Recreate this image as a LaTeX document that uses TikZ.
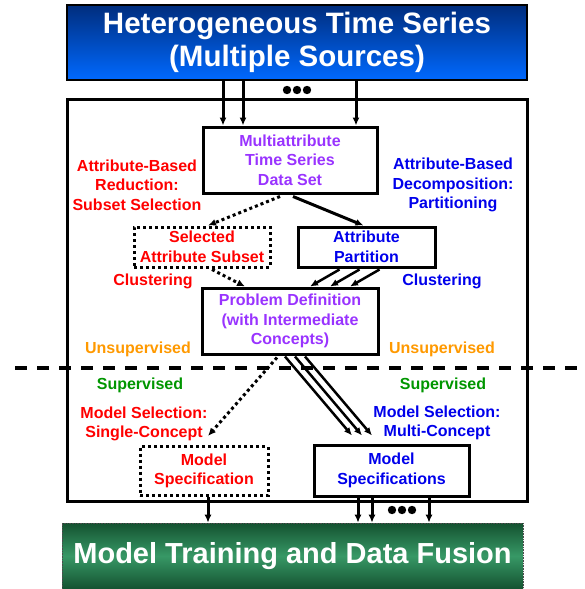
\documentclass[tikz,border=0pt]{standalone}
\usepackage{fontspec}
\setmainfont{Liberation Sans}
\usetikzlibrary{arrows.meta,calc}
\definecolor{tspurple}{RGB}{153,51,255}
\definecolor{tsred}{RGB}{255,0,0}
\definecolor{tsblue}{RGB}{0,0,235}
\definecolor{tsorange}{RGB}{255,153,0}
\definecolor{tsgreen}{RGB}{0,150,0}
\definecolor{srctop}{RGB}{0,45,125}
\definecolor{srcbot}{RGB}{0,105,255}
\definecolor{fuseout}{RGB}{20,82,48}
\definecolor{fusemid}{RGB}{55,152,102}
\tikzset{
	box/.style={draw, line width=3pt, align=center, inner sep=0pt,
		font=\fontsize{16}{19.5}\selectfont\bfseries},
	dotbox/.style={box, dash pattern=on 3pt off 3pt},
	lab/.style={align=center, inner sep=0pt, font=\fontsize{16}{19.5}\selectfont\bfseries},
	arr/.style={line width=3pt, -{Latex[length=8pt,width=7pt]}},
	thinarr/.style={line width=2.5pt, -{Latex[length=8pt,width=7pt]}},
	dotarr/.style={line width=3pt, dash pattern=on 3pt off 3pt, -{Latex[length=8pt,width=7pt]}},
	divider/.style={line width=3.5pt, dash pattern=on 12pt off 10pt},
}

\begin{document}
\begin{tikzpicture}[x=1pt,y=-1pt]
		%%%%% START %%%%%
		\useasboundingbox (0,0) rectangle (584,589);
		
		% input and output bars
		\node[draw, line width=2pt, top color=srctop, bottom color=srcbot, text=white,
			minimum width=460pt, minimum height=75pt, align=center,
			font=\fontsize{29.5}{33}\selectfont\bfseries] (src) at (297,42.5)
			{Heterogeneous Time Series\\(Multiple Sources)};
		\node[draw=black!70, densely dotted, line width=0.6pt, top color=fuseout, bottom color=fuseout,
			middle color=fusemid, text=white, minimum width=461pt, minimum height=66pt,
			font=\fontsize{29}{33}\selectfont\bfseries] (fuse) at (292.5,556)
			{Model Training and Data Fusion};
		
		% frame
		\node[draw, line width=3pt, minimum width=460pt, minimum height=402pt] (frame) at (297,300) {};
		
		% boxes
		\node[box, tspurple, draw=black, minimum width=174pt, minimum height=66pt] (multi) at (290,160)
			{Multiattribute\\Time Series\\Data Set};
		\node[dotbox, tsred, draw=black, minimum width=136pt, minimum height=40pt] (subset) at (202,247)
			{Selected\\Attribute Subset};
		\node[box, tsblue, draw=black, minimum width=137pt, minimum height=40pt] (part) at (366.5,247)
			{Attribute\\Partition};
		\node[box, tspurple, draw=black, minimum width=176pt, minimum height=66pt] (prob) at (290,321)
			{Problem Definition\\(with Intermediate\\Concepts)};
		\node[dotbox, tsred, draw=black, minimum width=128pt, minimum height=49pt] (spec) at (204,471)
			{Model\\Specification};
		\node[box, tsblue, draw=black, minimum width=155pt, minimum height=51pt] (specs) at (391.5,470.5)
			{Model\\Specifications};
		
		% labels
		\node[lab, tsred] (redu) at (137,185) {Attribute-Based\\Reduction:\\Subset Selection};
		\node[lab, tsblue] (deco) at (453,185) {Attribute-Based\\Decomposition:\\Partitioning};
		\node[lab, tsred] (clusl) at (153,281) {Clustering};
		\node[lab, tsblue] (clusr) at (442,281) {Clustering};
		\node[lab, tsorange] (unsl) at (138,349) {Unsupervised};
		\node[lab, tsorange] (unsr) at (442,349) {Unsupervised};
		\node[lab, tsgreen] (supl) at (140,385) {Supervised};
		\node[lab, tsgreen] (supr) at (443,385) {Supervised};
		\node[lab, tsred] (sell) at (144,424) {Model Selection:\\Single-Concept};
		\node[lab, tsblue] (selr) at (437,423) {Model Selection:\\Multi-Concept};
		
		% unsupervised / supervised split
		\coordinate (dl) at (15,368);
		\coordinate (dr) at (584,368);
		\draw[divider] (dl) -- (dr);
		
		% sources into the data set
		\coordinate (t1) at ($(src.south)+(-74,0)$);
		\coordinate (t2) at ($(src.south)+(-54,0)$);
		\coordinate (t3) at ($(src.south)+(59,0)$);
		\foreach \t in {t1,t2,t3}
			\draw[arr] (\t) -- (\t |- multi.north);
		\foreach \x in {287,297,307}
			\fill (\x,90) circle (4.2pt);
		
		% reduction and decomposition
		\draw[dotarr] ($(multi.south)+(-10,2)$) -- ($(subset.north)+(6,0)$);
		\draw[arr] ($(multi.south)+(3,2)$) -- ($(part.north)+(-3,0)$);
		\draw[dotarr] ($(subset.south)+(10,1)$) -- ($(prob.north)+(-45,0)$);
		\draw[thinarr] ($(part.south)+(-27,1)$) -- ($(prob.north)+(20,0)$);
		\draw[thinarr] ($(part.south)+(-7,1)$) -- ($(prob.north)+(40,0)$);
		\draw[thinarr] ($(part.south)+(13,1)$) -- ($(prob.north)+(60,0)$);
		
		% model selection
		\draw[dotarr] ($(prob.south)+(-13,2)$) -- ($(spec.north)+(4,-9)$);
		\draw[thinarr] ($(prob.south)+(-5,1)$) -- ($(specs.north)+(-39.5,-8)$);
		\draw[thinarr] ($(prob.south)+(5,1)$) -- ($(specs.north)+(-29.5,-8)$);
		\draw[thinarr] ($(prob.south)+(15,1)$) -- ($(specs.north)+(-19.5,-8)$);
		
		% specifications into training
		\coordinate (b1) at ($(spec.south)+(4,0)$);
		\coordinate (b2) at ($(specs.south)+(-33.5,0)$);
		\coordinate (b3) at ($(specs.south)+(-19.5,0)$);
		\coordinate (b4) at ($(specs.south)+(37.5,0)$);
		\foreach \b in {b1,b2,b3,b4}
			\draw[arr] (\b) -- (\b |- fuse.north);
		\foreach \x in {392,402,412}
			\fill (\x,510) circle (4.2pt);
		%%%%% END %%%%%
\end{tikzpicture}
\end{document}
